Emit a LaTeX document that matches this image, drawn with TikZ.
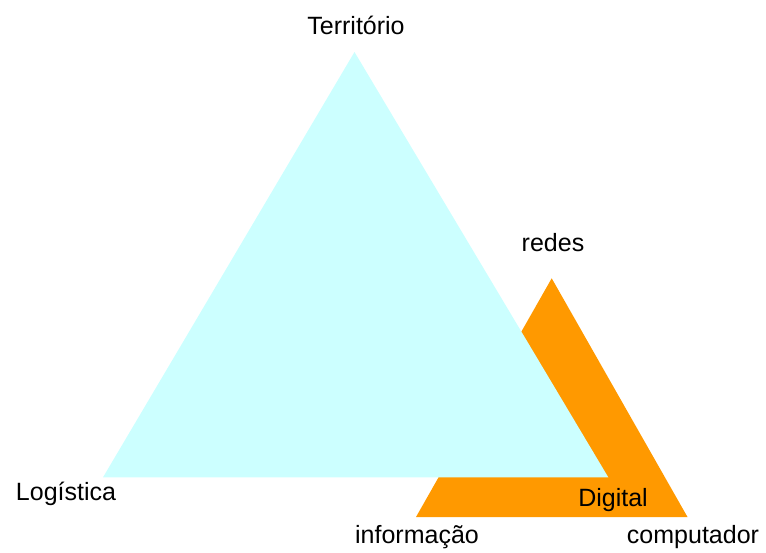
\documentclass[tikz,border=0pt]{standalone}
\usepackage{fontspec}
\setmainfont{Liberation Sans}
\definecolor{territorio}{HTML}{CCFFFF}
\definecolor{digital}{HTML}{FF9900}

\begin{document}
\begin{tikzpicture}[x=1pt,y=-1pt]
\tikzstyle{every node}+=[inner sep=0pt, font=\fontsize{25}{29}\selectfont]
\useasboundingbox (0,0) rectangle (766,552);

% orange triangle first, cyan covers it
\coordinate (R) at (551.7,278.3);
\coordinate (I) at (416,517);
\coordinate (C) at (687.5,517);
\fill [digital] (R) -- (I) -- (C) -- cycle;

\coordinate (T) at (354.5,52);
\coordinate (L) at (103,477.3);
\coordinate (D) at (608.3,477.3);
\fill [territorio] (T) -- (L) -- (D) -- cycle;

\draw (356,25) node (territorio) {Território};
\draw (66,494) node (logistica) {Logística};
\draw (553,243) node (redes) {redes};
\draw (613,500) node (digital) {Digital};
\draw (417,537) node (informacao) {informação};
\draw (693,537) node (computador) {computador};
\end{tikzpicture}
\end{document}
